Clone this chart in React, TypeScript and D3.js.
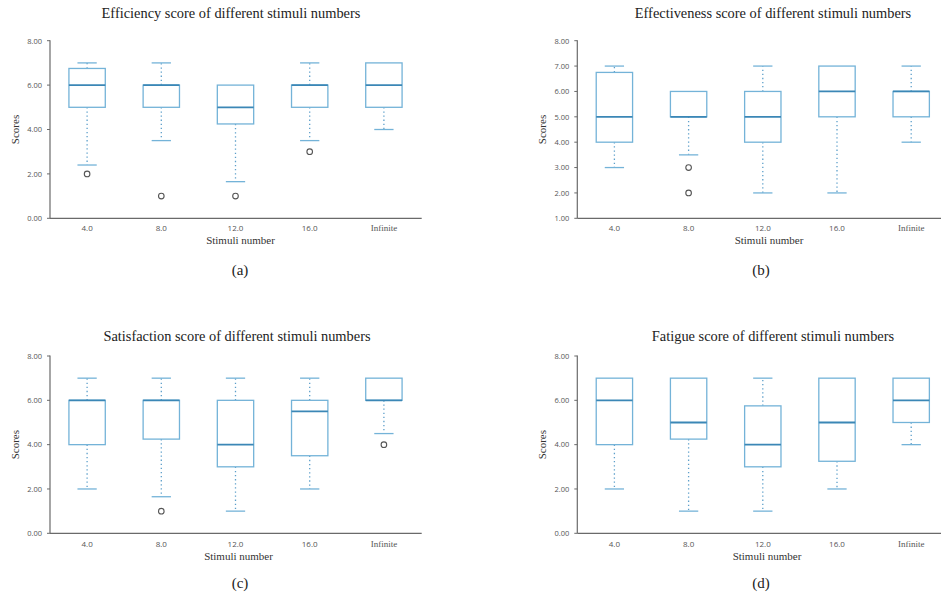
import React from "react";
import * as d3 from "d3";

const categories = ["4.0", "8.0", "12.0", "16.0", "Infinite"];

// Efficiency (a)
const effLow = [2.4, 3.5, 1.65, 3.5, 4];
const effQ1 = [5, 5, 4.25, 5, 5];
const effMed = [6, 6, 5, 6, 6];
const effQ3 = [6.75, 6, 6, 6, 7];
const effHigh = [7, 7, 6, 7, 7];
const effOut = [[2], [1], [1], [3], []];

// Effectiveness (b)
const efvLow = [3, 3.5, 2, 2, 4];
const efvQ1 = [4, 5, 4, 5, 5];
const efvMed = [5, 5, 5, 6, 6];
const efvQ3 = [6.75, 6, 6, 7, 6];
const efvHigh = [7, 6, 7, 7, 7];
const efvOut = [[], [3, 2], [], [], []];

// Satisfaction (c)
const satLow = [2, 1.65, 1, 2, 4.5];
const satQ1 = [4, 4.25, 3, 3.5, 6];
const satMed = [6, 6, 4, 5.5, 6];
const satQ3 = [6, 6, 6, 6, 7];
const satHigh = [7, 7, 7, 7, 7];
const satOut = [[], [1], [], [], [4]];

// Fatigue (d)
const fatLow = [2, 1, 1, 2, 4];
const fatQ1 = [4, 4.25, 3, 3.25, 5];
const fatMed = [6, 5, 4, 5, 6];
const fatQ3 = [7, 7, 5.75, 7, 7];
const fatHigh = [7, 7, 7, 7, 7];
const fatOut = [[], [], [], [], []];

const titles = [
  "Efficiency score of different stimuli numbers",
  "Effectiveness score of different stimuli numbers",
  "Satisfaction score of different stimuli numbers",
  "Fatigue score of different stimuli numbers",
];
const letters = ["(a)", "(b)", "(c)", "(d)"];
const yTicksA = [0, 2, 4, 6, 8];
const yTicksB = [1, 2, 3, 4, 5, 6, 7, 8];

const BOX = "#74b3d8";
const MED = "#3b87b6";
const WHISK = "#5d9fca";
const AXIS = "#6a6a6a";
const SERIF = "'Liberation Serif', 'Times New Roman', serif";
const SANS = "'Open Sans', 'DejaVu Sans', sans-serif";

type PanelProps = {
  x0: number; x1: number; yTop: number; yBot: number;
  domain: [number, number]; ticks: number[];
  low: number[]; q1: number[]; med: number[]; q3: number[]; high: number[]; out: number[][];
  title: string; titleX: number; titleY: number;
  letter: string; letterX: number; letterY: number;
  xTitleX: number; xTitleY: number; tickY: number;
  scoresX: number;
};

function Panel(p: PanelProps) {
  const x = d3.scaleBand<string>().domain(categories).range([p.x0, p.x0 + 5 * 74.2]).padding(0);
  const y = d3.scaleLinear().domain(p.domain).range([p.yBot, p.yTop]);
  const bw = x.bandwidth();
  const boxW = bw * 0.49;
  const capW = bw * 0.26;
  return (
    <g>
      <text x={p.titleX} y={p.titleY} textAnchor="middle" fontFamily={SERIF} fontSize={14.4} fill="#222">{p.title}</text>
      <line x1={p.x0} x2={p.x0} y1={p.yTop - 0.5} y2={p.yBot} stroke={AXIS} strokeWidth={1.2} />
      <line x1={p.x0} x2={Math.min(p.x1, 941)} y1={p.yBot} y2={p.yBot} stroke={AXIS} strokeWidth={1.2} />
      {p.ticks.map((t) => (
        <g key={t}>
          <line x1={p.x0 - 3} x2={p.x0} y1={y(t)} y2={y(t)} stroke={AXIS} strokeWidth={1} />
          <text x={p.x0 - 8} y={y(t) + 2.8} textAnchor="end" fontFamily={SANS} fontSize={7.5} fill="#555">{t.toFixed(2)}</text>
        </g>
      ))}
      <text transform={`translate(${p.scoresX},${(p.yTop + p.yBot) / 2}) rotate(-90)`} textAnchor="middle" fontFamily={SERIF} fontSize={11} fill="#333">Scores</text>
      {categories.map((c, i) => {
        const cx = (x(c) as number) + bw / 2;
        return (
          <g key={c}>
            <text x={cx} y={p.tickY} textAnchor="middle" fontFamily={c === "Infinite" ? SERIF : SANS} fontSize={c === "Infinite" ? 9 : 8} fill="#555">{c}</text>
            {p.high[i] > p.q3[i] && (
              <line x1={cx} x2={cx} y1={y(p.q3[i])} y2={y(p.high[i])} stroke={WHISK} strokeWidth={1.3} strokeDasharray="1.3 2.8" />
            )}
            {p.low[i] < p.q1[i] && (
              <line x1={cx} x2={cx} y1={y(p.q1[i])} y2={y(p.low[i])} stroke={WHISK} strokeWidth={1.3} strokeDasharray="1.3 2.8" />
            )}
            {p.high[i] > p.q3[i] && (
              <line x1={cx - capW / 2} x2={cx + capW / 2} y1={y(p.high[i])} y2={y(p.high[i])} stroke={BOX} strokeWidth={1.3} />
            )}
            {p.low[i] < p.q1[i] && (
              <line x1={cx - capW / 2} x2={cx + capW / 2} y1={y(p.low[i])} y2={y(p.low[i])} stroke={BOX} strokeWidth={1.3} />
            )}
            <rect x={cx - boxW / 2} y={y(p.q3[i])} width={boxW} height={y(p.q1[i]) - y(p.q3[i])} fill="white" stroke={BOX} strokeWidth={1.3} />
            <line x1={cx - boxW / 2} x2={cx + boxW / 2} y1={y(p.med[i])} y2={y(p.med[i])} stroke={MED} strokeWidth={1.8} />
            {p.out[i].map((o, k) => (
              <circle key={k} cx={cx} cy={y(o)} r={2.8} fill="white" stroke="#555" strokeWidth={1.1} />
            ))}
          </g>
        );
      })}
      <text x={p.xTitleX} y={p.xTitleY} textAnchor="middle" fontFamily={SERIF} fontSize={11} fill="#333">Stimuli number</text>
      <text x={p.letterX} y={p.letterY} textAnchor="middle" fontFamily={SERIF} fontSize={15} fill="#222">{p.letter}</text>
    </g>
  );
}

export default function App() {
  return (
    <svg width={941} height={594} style={{ position: "absolute", left: 0, top: 0, background: "white" }}>
      <Panel x0={50} x1={421.7} yTop={40.7} yBot={218.3} domain={[0, 8]} ticks={yTicksA}
        low={effLow} q1={effQ1} med={effMed} q3={effQ3} high={effHigh} out={effOut}
        title={titles[0]} titleX={231} titleY={18}
        letter={letters[0]} letterX={240} letterY={275}
        xTitleX={240.5} xTitleY={244} tickY={231} scoresX={19} />
      <Panel x0={577.3} x1={948} yTop={40.7} yBot={218.3} domain={[1, 8]} ticks={yTicksB}
        low={efvLow} q1={efvQ1} med={efvMed} q3={efvQ3} high={efvHigh} out={efvOut}
        title={titles[1]} titleX={773} titleY={18}
        letter={letters[1]} letterX={761} letterY={275}
        xTitleX={769} xTitleY={244} tickY={231} scoresX={546} />
      <Panel x0={50} x1={421.7} yTop={356} yBot={533.3} domain={[0, 8]} ticks={yTicksA}
        low={satLow} q1={satQ1} med={satMed} q3={satQ3} high={satHigh} out={satOut}
        title={titles[2]} titleX={237} titleY={341}
        letter={letters[2]} letterX={240} letterY={588}
        xTitleX={238.5} xTitleY={560} tickY={546.5} scoresX={19} />
      <Panel x0={577.3} x1={948} yTop={356} yBot={533.3} domain={[0, 8]} ticks={yTicksA}
        low={fatLow} q1={fatQ1} med={fatMed} q3={fatQ3} high={fatHigh} out={fatOut}
        title={titles[3]} titleX={773} titleY={341}
        letter={letters[3]} letterX={761} letterY={588}
        xTitleX={767} xTitleY={560} tickY={546.5} scoresX={546} />
    </svg>
  );
}
